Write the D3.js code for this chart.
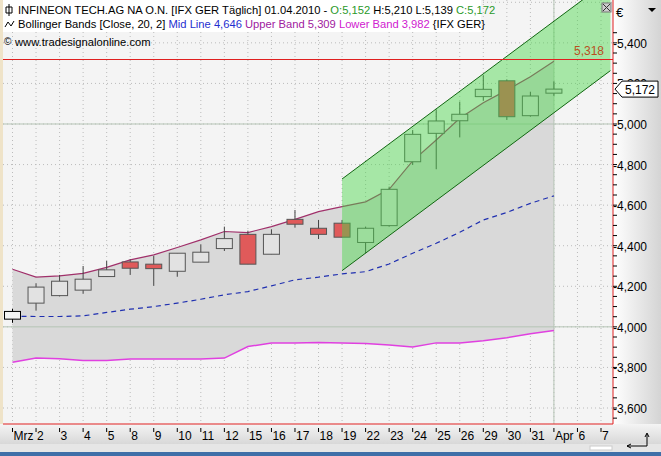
<!DOCTYPE html>
<html><head><meta charset="utf-8">
<script src="https://cdn.jsdelivr.net/npm/d3@7"></script>
<style>body{margin:0;background:#fff}svg{display:block;font-family:"Liberation Sans",Arial,sans-serif}</style>
</head><body><svg id="c" width="661" height="456"></svg>
<script>
const dayLabels=["Mrz","2","3","4","5","8","9","10","11","12","15","16","17","18","19","22","23","24","25","26","29","30","31","Apr","6","7"];
const opens =[4038,4117,4154,4181,4248,4320,4309,4274,4319,4386,4456,4358,4530,4486,4511,4416,4499,4814,4954,5016,5135,5213,5041,5152];
const highs =[4089,4215,4256,4300,4325,4333,4350,4363,4407,4494,4474,4481,4576,4527,4527,4494,4691,4970,5072,5110,5241,5220,5159,5210];
const lows  =[4020,4080,4150,4163,4248,4256,4202,4247,4319,4374,4309,4358,4489,4433,4442,4363,4494,4798,4777,4934,5115,5020,5036,5139];
const closes=[4076,4196,4225,4235,4281,4289,4287,4363,4368,4435,4309,4456,4506,4456,4442,4486,4678,4949,5015,5048,5171,5036,5138,5172];
const upperBand=[4284,4245,4251,4264,4293,4330,4355,4391,4429,4470,4465,4494,4530,4568,4593,4616,4678,4818,4921,5028,5105,5167,5233,5309];
const midLine=[4052,4051,4051,4054,4071,4087,4100,4117,4136,4158,4174,4202,4232,4245,4261,4272,4310,4363,4412,4466,4527,4564,4609,4646];
const lowerBand=[3826,3846,3843,3834,3834,3841,3841,3841,3841,3846,3903,3920,3920,3923,3921,3918,3911,3901,3921,3921,3931,3946,3966,3982];
const channel=[{i:14,up:4729,lo:4277},{i:25.4,up:5714,lo:5263}];
const yTicks=[3600,3800,4000,4200,4400,4600,4800,5000,5200,5400];
const resistance=5318, lastPrice=5172;

const svg=d3.select("#c");
const L=3,R=613,T=0,B=424;
const x=d3.scaleLinear().domain([0,25]).range([12.5,601]);
const y=d3.scaleLinear().domain([3600,5000]).range([408,124]);
const fmtI=v=>(v/1000).toFixed(3).replace(".",",");

const defs=svg.append("defs");
const g1=defs.append("linearGradient").attr("id","ax").attr("x1",0).attr("x2",1);
g1.append("stop").attr("offset",0).attr("stop-color","#ffffff");g1.append("stop").attr("offset",1).attr("stop-color","#d4d4d4");
const g2=defs.append("linearGradient").attr("id","bx").attr("x1",0).attr("x2",0).attr("y1",0).attr("y2",1);
g2.append("stop").attr("offset",0).attr("stop-color","#f4f4f4");g2.append("stop").attr("offset",1).attr("stop-color","#d8d8d8");
defs.append("clipPath").attr("id","pc").append("rect").attr("x",L).attr("y",T).attr("width",R-L).attr("height",B-T);

svg.append("rect").attr("width",661).attr("height",456).attr("fill","#f0f0f0");
svg.append("rect").attr("x",0).attr("y",0).attr("width",3).attr("height",B).attr("fill","#efe3c8");
svg.append("rect").attr("x",L).attr("y",T).attr("width",R-L).attr("height",B-T).attr("fill","#f4f4f4");
svg.append("rect").attr("x",R).attr("y",0).attr("width",661-R).attr("height",B).attr("fill","url(#ax)");
svg.append("rect").attr("x",0).attr("y",B).attr("width",661).attr("height",20).attr("fill","url(#bx)");
svg.append("rect").attr("x",0).attr("y",444).attr("width",661).attr("height",8).attr("fill","#e6e6e6");
svg.append("rect").attr("x",0).attr("y",452).attr("width",661).attr("height",4).attr("fill","#3f6fa8");

const p=svg.append("g").attr("clip-path","url(#pc)");
p.selectAll(".hg").data(yTicks.concat([5600,3400])).join("line").attr("x1",L).attr("x2",R)
 .attr("y1",d=>y(d)).attr("y2",d=>y(d)).attr("stroke","#bbb").attr("stroke-dasharray","1,3");
p.selectAll(".vg").data(dayLabels).join("line").attr("x1",(d,i)=>x(i)).attr("x2",(d,i)=>x(i))
 .attr("y1",T).attr("y2",B).attr("stroke","#bbb").attr("stroke-dasharray","1,3");

const idx=d3.range(opens.length);
p.append("path").datum(idx).attr("fill","#d9d9d9")
 .attr("d",d3.area().x(i=>x(i)).y0(i=>y(lowerBand[i])).y1(i=>y(upperBand[i])));
[5000,4000].forEach(v=>p.append("line").attr("x1",L).attr("x2",R).attr("y1",y(v)).attr("y2",y(v)).attr("stroke","#b5c4b5"));
p.append("line").attr("x1",x(23)).attr("x2",x(23)).attr("y1",T).attr("y2",B).attr("stroke","#b5c4b5");

p.append("path").datum(idx).attr("fill","none").attr("stroke","#a0306a").attr("stroke-width",1.2)
 .attr("d",d3.line().x(i=>x(i)).y(i=>y(upperBand[i])));
p.append("path").datum(idx).attr("fill","none").attr("stroke","#e040e0").attr("stroke-width",1.5)
 .attr("d",d3.line().x(i=>x(i)).y(i=>y(lowerBand[i])));
p.append("path").datum(idx).attr("fill","none").attr("stroke","#1f2fb0").attr("stroke-width",1.2).attr("stroke-dasharray","5,4")
 .attr("d",d3.line().x(i=>x(i)).y(i=>y(midLine[i])));

const cw=16;
const cg=p.selectAll(".cd").data(idx).join("g");
cg.append("line").attr("x1",i=>x(i)).attr("x2",i=>x(i)).attr("y1",i=>y(highs[i])).attr("y2",i=>y(lows[i])).attr("stroke",i=>i==0?"#000":"#444");
cg.append("rect").attr("x",i=>x(i)-cw/2).attr("width",cw)
 .attr("y",i=>y(Math.max(opens[i],closes[i]))).attr("height",i=>Math.max(1,Math.abs(y(opens[i])-y(closes[i]))))
 .attr("fill",i=>closes[i]<opens[i]?"#e05a5a":(i==0?"#f4f4f4":"#e2e2e2")).attr("stroke",i=>i==0?"#000":"#555");

const cx0=x(channel[0].i),cx1=x(channel[1].i);
p.append("path").attr("fill","rgba(70,215,70,0.45)")
 .attr("d",`M${cx0},${y(channel[0].up)}L${cx1},${y(channel[1].up)}L${cx1},${y(channel[1].lo)}L${cx0},${y(channel[0].lo)}Z`);
p.append("line").attr("x1",cx0).attr("y1",y(channel[0].up)).attr("x2",cx1).attr("y2",y(channel[1].up)).attr("stroke","#116611");
p.append("line").attr("x1",cx0).attr("y1",y(channel[0].lo)).attr("x2",cx1).attr("y2",y(channel[1].lo)).attr("stroke","#116611");

p.append("line").attr("x1",L).attr("x2",R).attr("y1",y(resistance)).attr("y2",y(resistance)).attr("stroke","#e02020").attr("stroke-width",1.2);
svg.append("text").attr("x",604).attr("y",y(resistance)-4).attr("text-anchor","end").attr("font-size",12).attr("fill","#b8501e").text(fmtI(resistance));
svg.append("rect").attr("x",602).attr("y",3).attr("width",9).attr("height",9).attr("fill","#ccc").attr("stroke","#777");
svg.append("path").attr("d","M603,4L610,11M610,4L603,11").attr("stroke","#333");

svg.append("line").attr("x1",R).attr("x2",R).attr("y1",0).attr("y2",B).attr("stroke","#e02020");
svg.append("line").attr("x1",L).attr("x2",R).attr("y1",B).attr("y2",B).attr("stroke","#e02020");

const ya=svg.append("g");
ya.selectAll("line").data(d3.range(3550,5500,50)).join("line").attr("x1",R).attr("x2",R+4).attr("y1",d=>y(d)).attr("y2",d=>y(d)).attr("stroke","#000");
ya.selectAll("text").data(yTicks.filter(d=>d!==5200)).join("text").attr("x",R).attr("y",d=>y(d)+5).attr("font-size",12).attr("fill","#000").text(d=>"-"+fmtI(d));
svg.append("text").attr("x",616).attr("y",17).attr("font-size",13).text("€");
svg.append("path").attr("d","M648,8L656,8L652,12Z").attr("fill","#000");
const ly=y(lastPrice);
// 5,200 label is mostly hidden behind the last-price marker, as in the reference
svg.append("text").attr("x",R).attr("y",y(5200)+5).attr("font-size",12).text("-"+fmtI(5200)).attr("clip-path","url(#lbc)");
defs.append("clipPath").attr("id","lbc").append("rect").attr("x",R).attr("y",0).attr("width",50).attr("height",ly-8);
svg.append("path").attr("d",`M615,${ly}L622,${ly-8}L658,${ly-8}L658,${ly+8}L622,${ly+8}Z`).attr("fill","#fff").attr("stroke","#000");
svg.append("text").attr("x",625).attr("y",ly+5).attr("font-size",12).text(fmtI(lastPrice));

const xa=svg.append("g");
xa.selectAll("line").data(dayLabels).join("line").attr("x1",(d,i)=>x(i)).attr("x2",(d,i)=>x(i)).attr("y1",B+4).attr("y2",B+8).attr("stroke","#000");
xa.selectAll("text").data(dayLabels).join("text").attr("x",(d,i)=>x(i)+1).attr("y",B+16).attr("font-size",12).text(d=>d);
svg.append("path").attr("d","M627,446L647,446L647,434M645,437L647,433L649,437M627,446L631,444M627,446L631,448").attr("fill","none").attr("stroke","#000");
svg.append("rect").attr("x",590).attr("y",446).attr("width",22).attr("height",4).attr("fill","#fff").attr("stroke","#ccc");

svg.append("rect").attr("x",3).attr("y",0).attr("width",478).attr("height",32).attr("fill","#fff");
const h=svg.append("g").attr("font-size",11.2);
const t1=h.append("text").attr("x",18).attr("y",14);
t1.append("tspan").text("INFINEON TECH.AG NA O.N. [IFX GER  Täglich] 01.04.2010 - ");
t1.append("tspan").attr("fill","#2a9a2a").text("O:5,152 ");
t1.append("tspan").text("H:5,210 L:5,139 ");
t1.append("tspan").attr("fill","#2a9a2a").text("C:5,172");
svg.append("path").attr("d","M9,4L9,16M6,7L12,7L12,13L6,13Z").attr("fill","none").attr("stroke","#000");
const t2=h.append("text").attr("x",18).attr("y",28);
t2.append("tspan").text("Bollinger Bands [Close, 20, 2] ");
t2.append("tspan").attr("fill","#1f2fd0").text("Mid Line 4,646 ");
t2.append("tspan").attr("fill","#a020a0").text("Upper Band 5,309 ");
t2.append("tspan").attr("fill","#d020d0").text("Lower Band 3,982 ");
t2.append("tspan").text("{IFX GER}");
svg.append("path").attr("d","M5,27L8,22L11,26L14,21").attr("fill","none").attr("stroke","#000");
h.append("text").attr("x",15).attr("y",46).text("www.tradesignalonline.com");
svg.append("text").attr("x",4).attr("y",45).attr("font-size",10).text("©");
</script></body></html>
